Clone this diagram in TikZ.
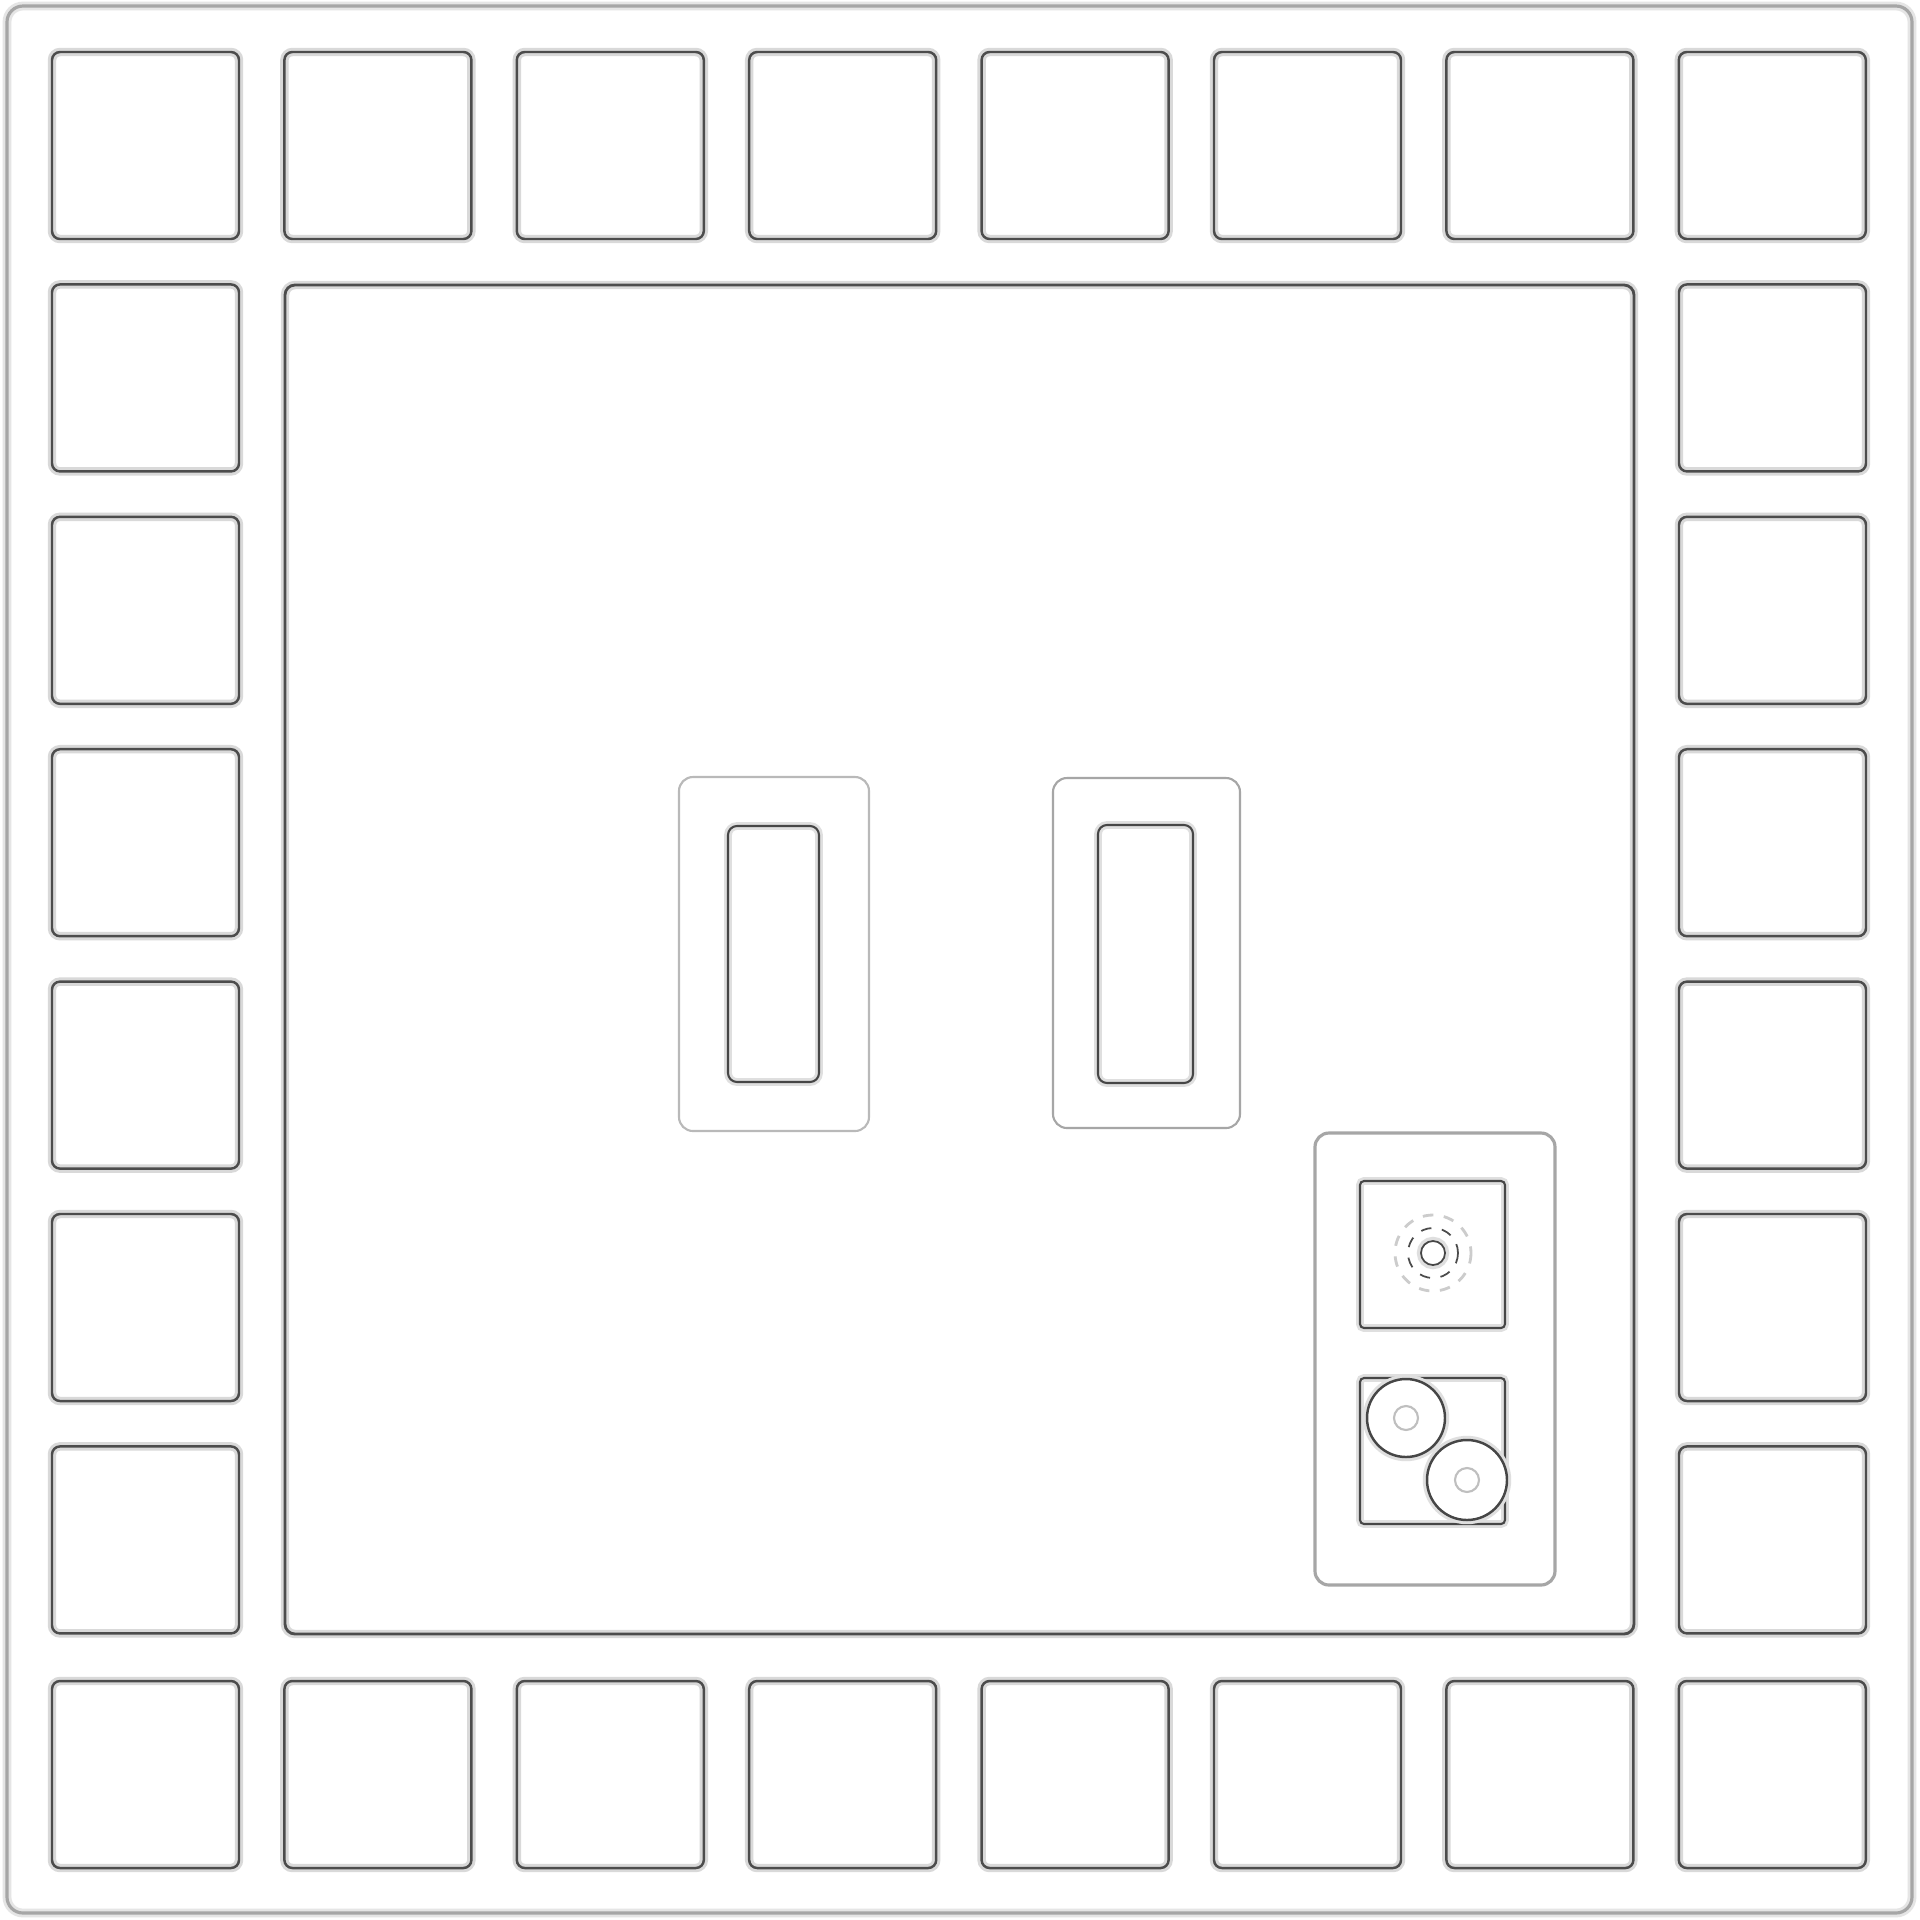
\documentclass[tikz,border=0pt]{standalone}
\begin{document}
\begin{tikzpicture}[x=0.01cm,y=-0.01cm,
  cell/.style={draw=gray!60!black, line width=0.7pt, rounded corners=8*0.01cm,
    preaction={draw=gray!30, line width=2.4pt}},
  bigsq/.style={draw=gray!60!black, line width=0.8pt, rounded corners=10*0.01cm,
    preaction={draw=gray!30, line width=2.4pt}},
  frameline/.style={draw=gray!55, line width=0.6pt, rounded corners=14*0.01cm},
  slot/.style={draw=gray!55!black, line width=0.6pt, rounded corners=9*0.01cm,
    preaction={draw=gray!25, line width=2.2pt}},
  ring/.style={draw=gray!55!black, line width=0.7pt, fill=white,
    preaction={draw=gray!25, line width=2.4pt}},
  faintring/.style={draw=gray!40, line width=0.8pt, dashed}]
\useasboundingbox (0,0) rectangle (1920,1920);
\fill[white] (0,0) rectangle (1920,1920);
% outer border
\draw[draw=gray!70, line width=0.9pt, rounded corners=16*0.01cm,
  preaction={draw=gray!20, line width=2.5pt}] (7,6) rectangle (1912,1913);
% perimeter cells
\foreach \i in {0,...,7}{
  \pgfmathsetmacro{\a}{52+232.4*\i}
  \draw[cell] (\a,52) rectangle ++(187,187);
  \draw[cell] (\a,1681) rectangle ++(187,187);
}
\foreach \j in {1,...,6}{
  \pgfmathsetmacro{\b}{52+232.4*\j}
  \draw[cell] (52,\b) rectangle ++(187,187);
  \draw[cell] (1679,\b) rectangle ++(187,187);
}
% central square
\draw[bigsq] (285,285) rectangle (1634,1634);
% left slot
\draw[frameline] (679,777) rectangle (869,1131);
\draw[slot] (728,826) rectangle (819,1082);
% right slot
\draw[frameline, draw=gray!70] (1053,778) rectangle (1240,1128);
\draw[slot] (1098,825) rectangle (1193,1083);
% panel
\draw[frameline, draw=gray!70, line width=0.9pt] (1315,1133) rectangle (1555,1585);
\draw[slot, rounded corners=4*0.01cm] (1360,1181) rectangle (1505,1328);
\draw[slot, rounded corners=4*0.01cm] (1360,1378) rectangle (1505,1524);
% dials
\draw[faintring] (1433,1253) circle (38);
\draw[draw=gray!60!black, line width=0.5pt, dashed] (1433,1253) circle (25);
\draw[ring, line width=0.5pt] (1433,1253) circle (12);
\draw[ring] (1406,1418) circle (39);
\draw[draw=gray!50, line width=0.6pt] (1406,1418) circle (12);
\draw[ring] (1467,1480) circle (40);
\draw[draw=gray!50, line width=0.6pt] (1467,1480) circle (12);
\end{tikzpicture}
\end{document}
